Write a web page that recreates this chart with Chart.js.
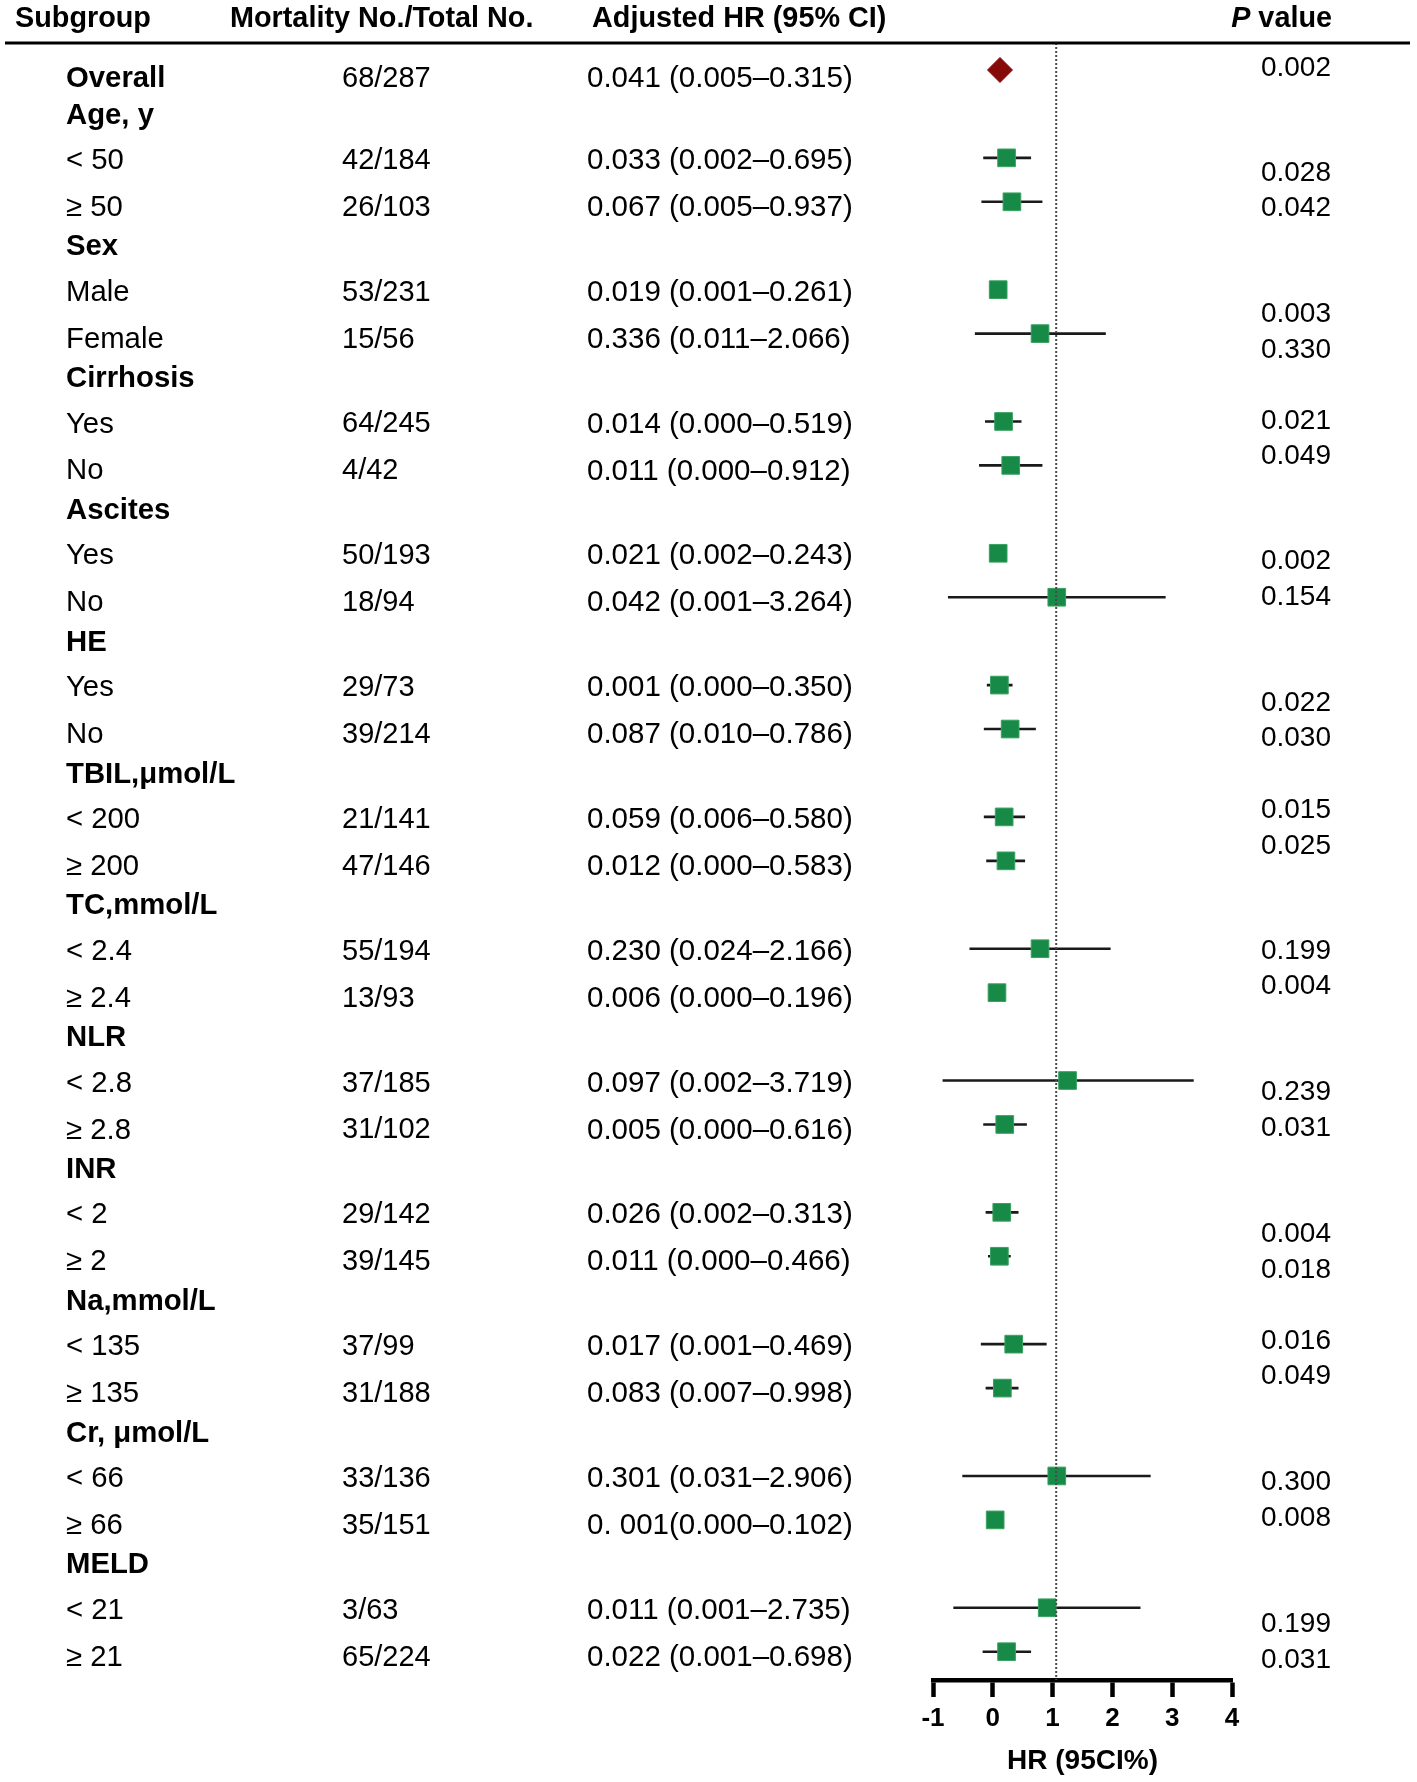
<!DOCTYPE html>
<html>
<head>
<meta charset="utf-8">
<script src="https://cdn.jsdelivr.net/npm/chart.js@4.4.1/dist/chart.umd.min.js"></script>
<style>
html,body{margin:0;padding:0;background:#fff;}
#wrap{width:1417px;height:1782px;position:relative;}
canvas{display:block;}
</style>
</head>
<body>
<div id="wrap"><canvas id="c" width="1417" height="1782"></canvas></div>
<script>
// ---------------- DATA ----------------
const rowLabels = ['Overall','Age, y','< 50','≥ 50','Sex','Male','Female','Cirrhosis','Yes','No','Ascites','Yes','No','HE','Yes','No','TBIL,μmol/L','< 200','≥ 200','TC,mmol/L','< 2.4','≥ 2.4','NLR','< 2.8','≥ 2.8','INR','< 2','≥ 2','Na,mmol/L','< 135','≥ 135','Cr, μmol/L','< 66','≥ 66','MELD','< 21','≥ 21'];
const boldRows = [0,1,4,7,10,13,16,19,22,25,28,31,34];
const mortality = ['68/287','','42/184','26/103','','53/231','15/56','','64/245','4/42','','50/193','18/94','','29/73','39/214','','21/141','47/146','','55/194','13/93','','37/185','31/102','','29/142','39/145','','37/99','31/188','','33/136','35/151','','3/63','65/224'];
const hrText = ['0.041 (0.005–0.315)','','0.033 (0.002–0.695)','0.067 (0.005–0.937)','','0.019 (0.001–0.261)','0.336 (0.011–2.066)','','0.014 (0.000–0.519)','0.011 (0.000–0.912)','','0.021 (0.002–0.243)','0.042 (0.001–3.264)','','0.001 (0.000–0.350)','0.087 (0.010–0.786)','','0.059 (0.006–0.580)','0.012 (0.000–0.583)','','0.230 (0.024–2.166)','0.006 (0.000–0.196)','','0.097 (0.002–3.719)','0.005 (0.000–0.616)','','0.026 (0.002–0.313)','0.011 (0.000–0.466)','','0.017 (0.001–0.469)','0.083 (0.007–0.998)','','0.301 (0.031–2.906)','0. 001(0.000–0.102)','','0.011 (0.001–2.735)','0.022 (0.001–0.698)'];
const pValues = ['0.002','','0.028','0.042','','0.003','0.330','','0.021','0.049','','0.002','0.154','','0.022','0.030','','0.015','0.025','','0.199','0.004','','0.239','0.031','','0.004','0.018','','0.016','0.049','','0.300','0.008','','0.199','0.031'];
// plotted marker positions and CI ends (x-axis units)
const markerX = [0.12,null,0.23,0.32,null,0.09,0.79,null,0.18,0.30,null,0.09,1.07,null,0.11,0.29,null,0.19,0.22,null,0.79,0.07,null,1.25,0.20,null,0.15,0.11,null,0.35,0.16,null,1.07,0.04,null,0.91,0.23];
const ciLow  = [null,null,-0.16,-0.19,null,0.02,-0.30,null,-0.13,-0.23,null,0.02,-0.75,null,-0.10,-0.15,null,-0.15,-0.11,null,-0.39,0.01,null,-0.84,-0.16,null,-0.12,-0.08,null,-0.20,-0.12,null,-0.51,0.00,null,-0.66,-0.17];
const ciHigh = [null,null,0.64,0.83,null,0.16,1.89,null,0.48,0.83,null,0.16,2.89,null,0.33,0.72,null,0.54,0.54,null,1.97,0.13,null,3.36,0.57,null,0.43,0.30,null,0.90,0.43,null,2.64,0.08,null,2.47,0.64];
const xTicks = [-1,0,1,2,3,4];
const nullLine = 1.06; // dotted reference line as placed in the picture

// ---------------- LAYOUT (not data) ----------------
const pShift = [-0.04,0,0.34,0.14,0,0.55,0.37,0,0.0,-0.20,0,0.19,0.01,0,0.42,0.22,0,-0.15,-0.32,0,0.06,-0.14,0,0.27,0.09,0,0.50,0.33,0,-0.07,-0.27,0,0.14,-0.03,0,0.37,0.20];
const FONT = '"Liberation Sans", Arial, Helvetica, sans-serif';
function textOffset(i) {
  if (i === 0) return 9;
  const k = (i - 1) % 3;
  return k === 0 ? 1.5 : (k === 1 ? 3 : 6);
}

// ---------------- BUILD DATASETS ----------------
const ciPoints = [];
const hrPoints = [];
rowLabels.forEach((lab, i) => {
  if (ciLow[i] !== null) {
    ciPoints.push({x: ciLow[i], y: i}, {x: ciHigh[i], y: i}, {x: ciHigh[i], y: null});
  }
  if (markerX[i] !== null) hrPoints.push({x: markerX[i], y: i});
});
const ptStyle = hrPoints.map(p => p.y === 0 ? 'rectRot' : 'rect');
const ptRadius = hrPoints.map(p => 12.5);
const ptFill = hrPoints.map(p => p.y === 0 ? '#860a0a' : '#178a47');
const ptBorder = hrPoints.map(p => p.y === 0 ? '#860a0a' : '#3aa262');

const tablePlugin = {
  id: 'forestTable',
  afterDatasetsDraw(chart) {
    const {ctx, chartArea, scales: {x}} = chart;
    ctx.save();
    ctx.strokeStyle = '#4a4a4a';
    ctx.lineWidth = 2;
    ctx.setLineDash([2, 2]);
    const xr = x.getPixelForValue(nullLine);
    ctx.beginPath();
    ctx.moveTo(xr, chartArea.top);
    ctx.lineTo(xr, chartArea.bottom);
    ctx.stroke();
    ctx.restore();
  },
  afterDraw(chart) {
    const {ctx, scales: {y}} = chart;
    ctx.save();
    ctx.fillStyle = '#000';
    ctx.textBaseline = 'middle';
    // header
    const hy = 19;
    ctx.font = 'bold 28.8px ' + FONT;
    ctx.textAlign = 'left';
    ctx.fillText('Subgroup', 15, hy);
    ctx.fillText('Mortality No./Total No.', 230, hy);
    ctx.fillText('Adjusted HR (95% CI)', 592, hy);
    ctx.textAlign = 'right';
    const vw = ctx.measureText(' value').width;
    ctx.fillText(' value', 1332, hy);
    ctx.font = 'italic bold 28.8px ' + FONT;
    ctx.fillText('P', 1332 - vw, hy);
    // header rule
    ctx.strokeStyle = '#000';
    ctx.lineWidth = 3;
    ctx.beginPath();
    ctx.moveTo(5, 43);
    ctx.lineTo(1410, 43);
    ctx.stroke();
    // rows
    rowLabels.forEach((lab, i) => {
      const ry = y.getPixelForValue(i) + textOffset(i);
      ctx.textAlign = 'left';
      ctx.font = (boldRows.includes(i) ? 'bold ' : '') + '29.3px ' + FONT;
      ctx.fillText(lab, 66, ry);
      ctx.font = '29px ' + FONT;
      if (mortality[i]) ctx.fillText(mortality[i], 342, ry);
      ctx.font = '29.5px ' + FONT;
      if (hrText[i]) ctx.fillText(hrText[i], 587, ry);
      if (pValues[i]) {
        ctx.font = '28px ' + FONT;
        ctx.textAlign = 'right';
        ctx.fillText(pValues[i], 1331, y.getPixelForValue(i + pShift[i]));
      }
    });
    ctx.restore();
  }
};

new Chart(document.getElementById('c'), {
  type: 'scatter',
  data: {
    datasets: [
      {
        label: 'HR', type: 'scatter', data: hrPoints, order: 0,
        pointStyle: ptStyle, pointRadius: ptRadius, pointHoverRadius: ptRadius,
        backgroundColor: ptFill, borderColor: ptBorder, borderWidth: 1
      },
      {
        label: '95% CI', type: 'line', data: ciPoints, order: 1,
        borderColor: '#1a1a1a', borderWidth: 2.6, pointRadius: 0, pointHoverRadius: 0,
        spanGaps: false, tension: 0, fill: false
      }
    ]
  },
  options: {
    responsive: false,
    animation: false,
    devicePixelRatio: 1,
    layout: {padding: {left: 933, right: 185, top: 43, bottom: 0}},
    scales: {
      x: {
        type: 'linear', min: xTicks[0], max: xTicks[xTicks.length - 1],
        afterBuildTicks: (s) => { s.ticks = xTicks.map(v => ({value: v})); },
        ticks: {color: '#000', font: {family: FONT, size: 26, weight: 'bold'}, padding: 6},
        grid: {drawOnChartArea: false, drawTicks: true, tickLength: 17, tickWidth: 4.5, tickColor: '#000'},
        border: {display: true, color: '#000', width: 4.5},
        title: {display: true, text: 'HR (95CI%)', color: '#000', font: {family: FONT, size: 28, weight: 'bold'}, padding: {top: 0, bottom: 4}},
        afterFit: (s) => { s.height = 102; }
      },
      y: {type: 'linear', reverse: true, min: -0.614, max: 36.644, display: false}
    },
    plugins: {legend: {display: false}, tooltip: {enabled: false}}
  },
  plugins: [tablePlugin]
});
</script>
</body>
</html>
